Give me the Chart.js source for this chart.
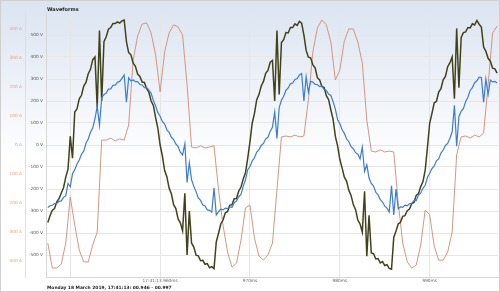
<!DOCTYPE html>
<html>
<head>
<meta charset="utf-8">
<script src="https://cdn.jsdelivr.net/npm/chart.js@4.4.1/dist/chart.umd.min.js"></script>
<style>
  html, body { margin: 0; padding: 0; background: #fff; }
  #wrap {
    width: 500px;
    height: 292px;
    background: linear-gradient(to bottom, #dbe4f1 0%, #e9eef6 22%, #ffffff 55%);
  }
  canvas { display: block; }
</style>
</head>
<body>
<div id="wrap"><canvas id="waveChart" width="500" height="292"></canvas></div>
<script>
// Samples: voltages every 0.25 ms, current every 0.5 ms
const sampleStartMs = 947.5;
const voltStepMs = 0.25;
const ampStepMs = 0.5;

const chartTitle = 'Waveforms';
const footerText = 'Monday 18 March 2019, 17:41:13: 00.946 - 00.997';

const xTickValues = [950, 960, 970, 980, 990];
const xTickLabels = ['', '17:41:13.960ms', '970ms', '980ms', '990ms'];
const voltTicks = [-500, -400, -300, -200, -100, 0, 100, 200, 300, 400, 500];
const ampTicks = [-400, -300, -200, -100, 0, 100, 200, 300, 400];

// dark trace (V)
const voltsA = [
  -352, -322, -296, -289, -258, -244, -218, -194, -146, -110,
  40, -60, 150, 164, 210, 226, 268, 284, 324, 344,
  388, 400, 170, 520, 200, 470, 492, 526, 534, 552,
  552, 560, 554, 564, 568, 470, 420, 410, 372, 358,
  322, 312, 286, 284, 256, 240, 200, 180, 124, 76,
  0, -50, -116, -144, -196, -222, -271, -289, -336, -354,
  -390, -220, -500, -300, -446, -464, -501, -504, -526, -524,
  -542, -539, -558, -553, -562, -440, -401, -359, -341, -309,
  -302, -274, -271, -244, -243, -209, -191, -154, -126, -60,
  15, 100, 144, 206, 229, 268, 289, 326, 339, 376,
  384, 200, 520, 230, 466, 479, 511, 509, 534, 534,
  551, 544, 562, 554, 500, 430, 399, 396, 364, 351,
  306, 296, 266, 261, 224, 206, 159, 116, 39, -4,
  -66, -104, -146, -164, -206, -229, -271, -294, -341, -359,
  -396, -210, -505, -320, -491, -494, -518, -516, -536, -530,
  -548, -544, -561, -565, -420, -391, -359, -351, -324, -321,
  -299, -291, -266, -261, -229, -221, -189, -166, -114, -10,
  100, 144, 191, 199, 241, 256, 296, 312, 356, 374,
  400, 210, 530, 260, 489, 511, 514, 534, 532, 551,
  546, 566, 549, 536, 445, 426, 394, 381, 349, 346,
  327
];

// blue trace (V)
const voltsB = [
  -284, -276, -274, -266, -266, -256, -254, -238, -230, -175,
  -190, -130, -112, -86, -68, -42, -28, 8, 27, 58,
  77, 120, 175, 90, 215, 229, 236, 254, 255, 271,
  272, 285, 289, 303, 318, 195, 305, 292, 296, 288,
  288, 275, 273, 261, 261, 249, 235, 202, 178, 147,
  131, 107, 95, 69, 58, 35, 25, 5, -7, -33,
  -45, 5, -170, -80, -158, -188, -212, -241, -252, -273,
  -277, -295, -297, -305, -195, -318, -303, -292, -295, -287,
  -289, -281, -283, -262, -255, -235, -225, -187, -158, -112,
  -98, -72, -58, -32, -21, -2, 7, 28, 35, 63,
  80, 150, 30, 170, 203, 222, 248, 259, 278, 282,
  298, 302, 318, 325, 200, 310, 240, 290, 286, 275,
  275, 265, 267, 252, 248, 232, 225, 197, 163, 115,
  98, 69, 53, 27, 15, -8, -17, -35, -42, -63,
  -10, -120, -90, -150, -175, -187, -215, -227, -248, -259,
  -278, -287, -305, -185, -318, -200, -290, -281, -283, -273,
  -276, -267, -265, -253, -253, -229, -218, -197, -183, -147,
  -128, -107, -95, -72, -63, -37, -23, -2, 7, 31,
  60, 180, -5, 130, 153, 165, 198, 217, 248, 261,
  283, 292, 308, 307, 195, 300, 230, 295, 287, 289,
  282
];

// current trace (A)
const amps = [
  -338, -424, -424, -410, -338, -179, -276, -362, -403, -403,
  -345, -300, 17, 17, 24, 14, 21, 17, 69, 293,
  376, 417, 421, 386, 310, 183, 321, 386, 414, 407,
  379, 207, -7, -10, -3, -10, -7, -3, -155, -276,
  -369, -421, -407, -328, -217, -207, -321, -383, -397, -379,
  -338, -155, 28, 31, 28, 34, 28, 31, 155, 321,
  403, 431, 414, 355, 224, 259, 359, 400, 400, 355,
  283, 86, -21, -24, -17, -24, -21, -24, -200, -338,
  -403, -424, -414, -345, -224, -241, -348, -397, -397, -369,
  -300, -34, 28, 31, 24, 34, 28, 41, 207, 386,
  410
];

function toPoints(values, stepMs) {
  return values.map((v, i) => ({ x: sampleStartMs + i * stepMs, y: v }));
}

const tickFont = { family: 'DejaVu Sans', size: 4.3 };

const frameText = {
  id: 'frameText',
  afterDraw(chart) {
    const { ctx, chartArea } = chart;
    ctx.save();
    ctx.fillStyle = '#1e1e1e';
    ctx.textBaseline = 'middle';
    ctx.font = 'bold 5px "DejaVu Sans"';
    ctx.fillText(chartTitle, chartArea.left + 1, 9.5);
    ctx.font = 'bold 4.4px "DejaVu Sans"';
    ctx.fillText(footerText, chartArea.left + 1, 288);
    ctx.strokeStyle = '#cfcfcf';
    ctx.lineWidth = 1;
    ctx.strokeRect(0.5, 0.5, chart.width - 1, chart.height - 1);
    ctx.restore();
  }
};

new Chart(document.getElementById('waveChart'), {
  type: 'line',
  data: {
    datasets: [
      {
        label: 'Voltage B',
        data: toPoints(voltsB, voltStepMs),
        borderColor: '#3b7cd6',
        borderWidth: 1.2,
        yAxisID: 'volts',
        order: 1
      },
      {
        label: 'Voltage A',
        data: toPoints(voltsA, voltStepMs),
        borderColor: '#42421a',
        borderWidth: 1.5,
        yAxisID: 'volts',
        order: 2
      },
      {
        label: 'Current',
        data: toPoints(amps, ampStepMs),
        borderColor: '#d08b72',
        borderWidth: 0.9,
        yAxisID: 'amps',
        order: 3
      }
    ]
  },
  options: {
    responsive: false,
    animation: false,
    layout: { padding: { top: 13, right: 2, bottom: 8, left: 0 } },
    elements: {
      point: { radius: 0 },
      line: { tension: 0 }
    },
    plugins: {
      legend: { display: false },
      tooltip: { enabled: false }
    },
    scales: {
      x: {
        type: 'linear',
        min: 947.3,
        max: 997.6,
        afterBuildTicks: axis => { axis.ticks = xTickValues.map(v => ({ value: v })); },
        afterFit: axis => { axis.height = 7; },
        ticks: {
          font: tickFont,
          color: '#666',
          padding: 1,
          maxRotation: 0,
          autoSkip: false,
          callback: (v, i) => xTickLabels[i]
        },
        grid: { color: '#e6e6e6', drawTicks: false },
        border: { color: '#d6d6d6' }
      },
      amps: {
        position: 'left',
        weight: 1,
        min: -455,
        max: 455,
        afterBuildTicks: axis => { axis.ticks = ampTicks.map(v => ({ value: v })); },
        afterFit: axis => { axis.width = 25; },
        ticks: {
          font: tickFont,
          color: '#e2a68b',
          padding: 3,
          callback: v => v + ' A'
        },
        grid: { display: false, drawTicks: false },
        border: { color: '#dedede' }
      },
      volts: {
        position: 'left',
        weight: 0,
        min: -600,
        max: 600,
        afterBuildTicks: axis => { axis.ticks = voltTicks.map(v => ({ value: v })); },
        afterFit: axis => { axis.width = 21; },
        ticks: {
          font: tickFont,
          color: '#555',
          padding: 3,
          callback: v => v + ' V'
        },
        grid: { color: '#e6e6e6', drawTicks: false },
        border: { color: '#d6d6d6' }
      }
    }
  },
  plugins: [frameText]
});
</script>
</body>
</html>
